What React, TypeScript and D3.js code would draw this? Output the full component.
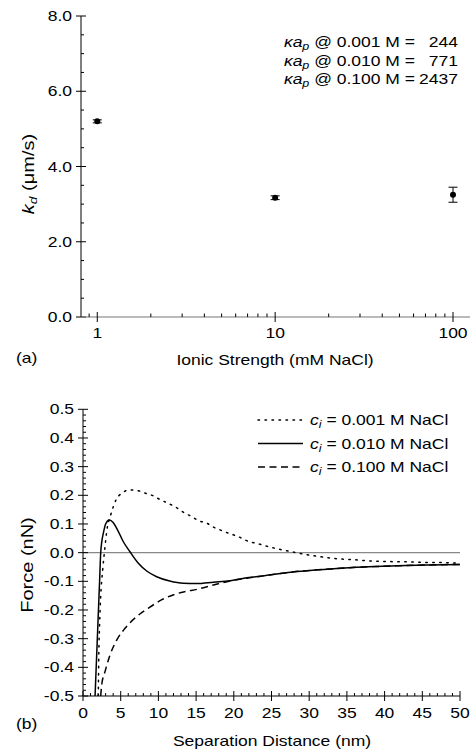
import React from 'react';
import * as d3 from 'd3';

// panel (a): deposition rate vs ionic strength
const ionicStrength = [1, 10, 100];
const kdValues = [5.2, 3.17, 3.25];
const kdErrors = [0.04, 0.05, 0.2];
const kappaConc = ['0.001', '0.010', '0.100'];
const kappaValues = ['244', '771', '2437'];

// panel (b): force profiles
const legendConc = ['0.001', '0.010', '0.100'];
const dotX = [2.03, 2.1, 2.2, 2.35, 2.61, 2.92, 3.14, 3.67, 4.38, 5.26, 6.23, 7.34, 8.31, 9.33, 10.3, 11.3, 12.4, 13.3, 14.4, 15.3, 16.4, 17.3, 18.4, 19.5, 20.6, 21.5, 23.5, 25.5, 27.5, 29.4, 31.4, 33.6, 36.1, 38.1, 40.3, 42.9, 45.1, 48.2, 50];
const dotY = [-0.5, -0.35, -0.25, -0.15, -0.06, 0.021, 0.073, 0.131, 0.184, 0.209, 0.219, 0.216, 0.207, 0.198, 0.184, 0.172, 0.157, 0.141, 0.126, 0.112, 0.103, 0.089, 0.077, 0.066, 0.056, 0.044, 0.029, 0.015, 0.004, -0.006, -0.014, -0.021, -0.025, -0.029, -0.031, -0.032, -0.034, -0.035, -0.037];
const solidX = [1.6, 1.75, 1.9, 2.05, 2.2, 2.35, 2.5, 2.7, 3.0, 3.49, 4.0, 4.47, 5.35, 6.23, 7.34, 8.45, 9.77, 11.5, 13.3, 15.1, 17.3, 19.5, 22, 23.9, 28.3, 32.8, 37.2, 41.6, 46, 50];
const solidY = [-0.5, -0.4, -0.3, -0.2, -0.1, 0, 0.04, 0.068, 0.1, 0.114, 0.105, 0.085, 0.038, 0.003, -0.037, -0.064, -0.084, -0.099, -0.107, -0.108, -0.103, -0.098, -0.087, -0.081, -0.066, -0.057, -0.05, -0.046, -0.043, -0.041];
const dashX = [2.35, 2.48, 2.92, 3.58, 4.47, 5.57, 7.12, 8.66, 10.4, 12.2, 13.5, 15.1, 17.3, 19.5, 22, 23.9, 28.3, 32.8, 37.2, 41.6, 46, 50];
const dashY = [-0.5, -0.461, -0.415, -0.357, -0.305, -0.264, -0.223, -0.194, -0.165, -0.145, -0.136, -0.128, -0.113, -0.099, -0.088, -0.081, -0.066, -0.057, -0.05, -0.046, -0.043, -0.041];

const FONT = '"Liberation Sans", Arial, Helvetica, sans-serif';
const SX = 1.25;

const T = ({ x, y, anchor = 'start', size = 14, rotate = false, children }: any) => (
  <g transform={`translate(${x},${y})${rotate ? ' rotate(-90) scale(1.25,1)' : ` scale(${SX},1)`}`}>
    <text textAnchor={anchor} fontSize={size} fontFamily={FONT} fill="#000">
      {children}
    </text>
  </g>
);

const fmt1 = (v: number) => {
  const r = Math.round(v * 10) / 10;
  return (r === 0 ? 0 : r).toFixed(1);
};

const App = () => {
  // top panel scales
  const xa = d3.scaleLog().domain([0.81, 124.6]).range([81, 470]);
  const ya = d3.scaleLinear().domain([0, 8]).range([317, 16]);
  // bottom panel scales
  const xb = d3.scaleLinear().domain([0, 50]).range([83, 460]);
  const yb = d3.scaleLinear().domain([-0.5, 0.5]).range([696, 409.3]);

  const yaMajor = d3.range(0, 8.01, 2);
  const yaMinor = d3.range(0, 8.01, 0.5).filter((v) => v % 2 !== 0);
  const xaMinor = [0.9, 2, 3, 4, 5, 6, 7, 8, 9, 20, 30, 40, 50, 60, 70, 80, 90];

  const ybMajor = d3.range(-5, 6).map((i) => i / 10);
  const ybMinor = d3.range(-25, 26).filter((i) => i % 5 !== 0).map((i) => i / 50);
  const xbMajor = d3.range(0, 51, 5);
  const xbMinor = d3.range(0, 51).filter((v) => v % 5 !== 0);

  const line = d3
    .line<[number, number]>()
    .x((d) => xb(d[0]))
    .y((d) => yb(d[1]))
    .curve(d3.curveMonotoneX);

  const series = [
    { xs: dotX, ys: dotY, dash: '1.5,5.5', cap: 'round' },
    { xs: solidX, ys: solidY, dash: 'none', cap: 'butt' },
    { xs: dashX, ys: dashY, dash: '7,4.5', cap: 'butt' },
  ];

  const legendY = [420, 443.5, 467];
  const annY = [47, 65.5, 84];

  return (
    <div style={{ position: 'absolute', left: 0, top: 0 }}>
      <svg width={475} height={754} style={{ display: 'block', background: '#fff' }}>
        <defs>
          <clipPath id="clipb">
            <rect x={xb(0)} y={yb(0.5)} width={xb(50) - xb(0)} height={yb(-0.5) - yb(0.5)} />
          </clipPath>
        </defs>

        {/* ---------- panel (a) ---------- */}
        <line x1={81} x2={81} y1={ya(8)} y2={ya(0)} stroke="#000" strokeWidth={1} />
        {yaMajor.map((v) => (
          <g key={'yam' + v}>
            <line x1={76} x2={86} y1={ya(v)} y2={ya(v)} stroke="#000" />
            <T x={72} y={ya(v) + 5} anchor="end">{fmt1(v)}</T>
          </g>
        ))}
        {yaMinor.map((v) => (
          <line key={'yan' + v} x1={81} x2={84} y1={ya(v)} y2={ya(v)} stroke="#000" />
        ))}
        <line x1={81} x2={470} y1={ya(0)} y2={ya(0)} stroke="#777" strokeWidth={1.2} />
        {ionicStrength.map((v) => (
          <g key={'xam' + v}>
            <line x1={xa(v)} x2={xa(v)} y1={312} y2={322} stroke="#000" />
            <T x={xa(v)} y={338} anchor="middle">{String(v)}</T>
          </g>
        ))}
        {xaMinor.map((v) => (
          <line key={'xan' + v} x1={xa(v)} x2={xa(v)} y1={313.5} y2={317} stroke="#000" />
        ))}
        {ionicStrength.map((v, i) => (
          <g key={'pt' + v}>
            <line x1={xa(v)} x2={xa(v)} y1={ya(kdValues[i] - kdErrors[i])} y2={ya(kdValues[i] + kdErrors[i])} stroke="#000" />
            <line x1={xa(v) - 4.5} x2={xa(v) + 4.5} y1={ya(kdValues[i] - kdErrors[i])} y2={ya(kdValues[i] - kdErrors[i])} stroke="#000" />
            <line x1={xa(v) - 4.5} x2={xa(v) + 4.5} y1={ya(kdValues[i] + kdErrors[i])} y2={ya(kdValues[i] + kdErrors[i])} stroke="#000" />
            <circle cx={xa(v)} cy={ya(kdValues[i])} r={3} fill="#000" />
          </g>
        ))}
        {kappaConc.map((c, i) => (
          <g key={'ann' + c}>
            <T x={415} y={annY[i]} anchor="end">
              <tspan fontStyle="italic">κa</tspan>
              <tspan fontStyle="italic" fontSize={10} dy={3}>p</tspan>
              <tspan dy={-3}>{`  @ ${c} M =`}</tspan>
            </T>
            <T x={458} y={annY[i]} anchor="end">{kappaValues[i]}</T>
          </g>
        ))}
        <T x={16} y={363}>(a)</T>
        <T x={275} y={365} anchor="middle">Ionic Strength (mM NaCl)</T>
        <T x={34} y={174} anchor="middle" size={16} rotate>
          <tspan fontStyle="italic">k</tspan>
          <tspan fontStyle="italic" fontSize={11} dy={3}>d</tspan>
          <tspan dy={-3}> (μm/s)</tspan>
        </T>

        {/* ---------- panel (b) ---------- */}
        <line x1={xb(0)} x2={xb(50)} y1={yb(0)} y2={yb(0)} stroke="#888" strokeWidth={1.2} />
        <line x1={xb(0)} x2={xb(0)} y1={yb(0.5)} y2={yb(-0.5)} stroke="#000" />
        <line x1={xb(0)} x2={xb(50)} y1={yb(-0.5)} y2={yb(-0.5)} stroke="#000" />
        {ybMajor.map((v) => (
          <g key={'ybm' + v}>
            <line x1={78} x2={88} y1={yb(v)} y2={yb(v)} stroke="#000" />
            <T x={74} y={yb(v) + 5} anchor="end">{fmt1(v)}</T>
          </g>
        ))}
        {ybMinor.map((v) => (
          <line key={'ybn' + v} x1={83} x2={86} y1={yb(v)} y2={yb(v)} stroke="#000" />
        ))}
        {xbMajor.map((v) => (
          <g key={'xbm' + v}>
            <line x1={xb(v)} x2={xb(v)} y1={691} y2={701} stroke="#000" />
            <T x={xb(v)} y={718} anchor="middle">{String(v)}</T>
          </g>
        ))}
        {xbMinor.map((v) => (
          <line key={'xbn' + v} x1={xb(v)} x2={xb(v)} y1={693} y2={696} stroke="#000" />
        ))}
        <g clipPath="url(#clipb)">
          {series.map((s, i) => (
            <path
              key={'s' + i}
              d={line(s.xs.map((x, j) => [x, s.ys[j]] as [number, number])) || ''}
              fill="none"
              stroke="#000"
              strokeWidth={1.5}
              strokeDasharray={s.dash}
              strokeLinecap={s.cap as any}
            />
          ))}
        </g>
        {legendConc.map((c, i) => (
          <g key={'lg' + c}>
            <line
              x1={258}
              x2={303}
              y1={legendY[i]}
              y2={legendY[i]}
              stroke="#000"
              strokeWidth={1.5}
              strokeDasharray={series[i].dash}
              strokeLinecap={series[i].cap as any}
            />
            <T x={310} y={legendY[i] + 5}>
              <tspan fontStyle="italic">c</tspan>
              <tspan fontStyle="italic" fontSize={10} dy={3}>i</tspan>
              <tspan dy={-3}>{` = ${c} M NaCl`}</tspan>
            </T>
          </g>
        ))}
        <T x={16} y={729}>(b)</T>
        <T x={272} y={746} anchor="middle">Separation Distance (nm)</T>
        <T x={33} y={565} anchor="middle" size={16} rotate>Force (nN)</T>
      </svg>
    </div>
  );
};

export default App;
